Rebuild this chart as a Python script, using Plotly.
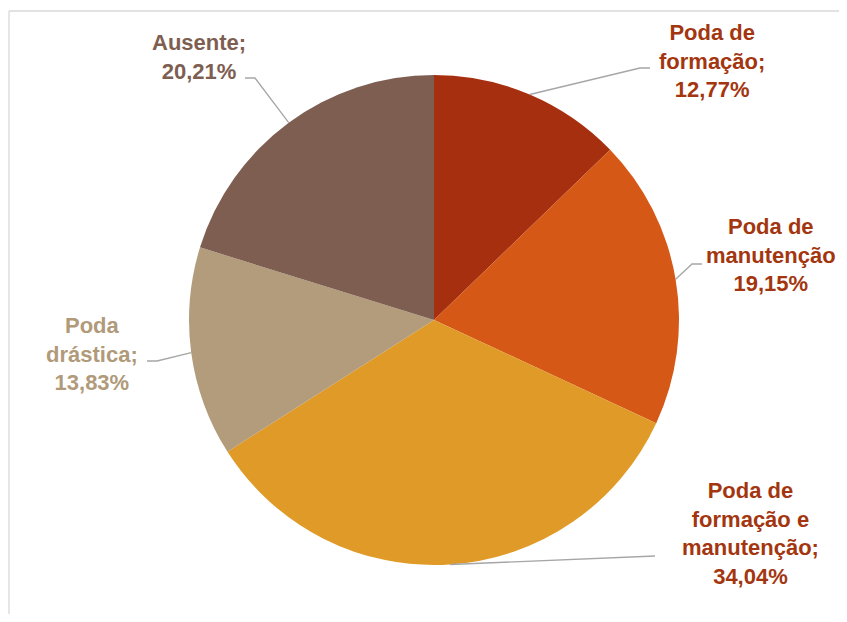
import math
import plotly.graph_objects as go

labels = ["Poda de formação", "Poda de manutenção", "Poda de formação e manutenção",
          "Poda drástica", "Ausente"]
values = [12.77, 19.15, 34.04, 13.83, 20.21]
slice_colors = ["#A52F0E", "#D55816", "#E09A27", "#B29C7C", "#7D5E51"]
text_colors = ["#A3360F", "#A3360F", "#A3360F", "#B09A7A", "#7D5E51"]
label_text = ["Poda de<br>formação;<br>12,77%",
              "Poda de<br>manutenção<br>19,15%",
              "Poda de<br>formação e<br>manutenção;<br>34,04%",
              "Poda<br>drástica;<br>13,83%",
              "Ausente;<br>20,21%"]

WIN_W, WIN_H = 847, 622
OFF = 8  # page body margin: figure is drawn 8px in from the window corner
W, H = WIN_W - 2 * OFF, WIN_H - 2 * OFF  # keep the page from scrolling
cx, cy, r = 434, 320, 245  # pie centre / radius in window pixels

# label placement: text centre, elbow point, end of leader line (window pixels)
label_pos = [(712, 61), (771, 255), (750, 533), (92, 354), (199, 57)]
elbows = [(640, 68), (692, 264), (655, 556), (157, 361), (255, 78)]
line_ends = [(650, 68), (702, 264), (655, 556), (147, 361), (245, 78)]

fig = go.Figure()
fig.add_trace(go.Pie(
    labels=labels, values=values, sort=False, direction="clockwise", rotation=0,
    marker=dict(colors=slice_colors, line=dict(width=0)),
    textinfo="none", hoverinfo="none",
    domain=dict(x=[(cx - r - OFF) / W, (cx + r - OFF) / W],
                y=[1 - (cy + r - OFF) / H, 1 - (cy - r - OFF) / H]),
))

total = sum(values)
cum = 0
for i, v in enumerate(values):
    mid = (cum + v / 2) / total * 2 * math.pi
    cum += v
    px, py = cx + r * math.sin(mid), cy - r * math.cos(mid)
    (ex, ey), (lx, ly) = elbows[i], line_ends[i]
    fig.add_shape(type="path", xref="x", yref="y",
                  path=f"M {px:.1f} {py:.1f} L {ex} {ey} L {lx} {ly}",
                  line=dict(color="#A6A6A6", width=1.3))
    fig.add_annotation(x=label_pos[i][0], y=label_pos[i][1], xref="x", yref="y",
                       text=f"<b>{label_text[i]}</b>", showarrow=False, align="center",
                       font=dict(family="Liberation Sans, Arial", size=22, color=text_colors[i]))

# chart frame: top and left edges
frame = dict(color="#D9D9D9", width=1.3)
fig.add_shape(type="line", xref="x", yref="y", x0=9, y0=11, x1=WIN_W + 20, y1=11, line=frame, layer="below")
fig.add_shape(type="line", xref="x", yref="y", x0=9, y0=11, x1=9, y1=WIN_H + 20, line=frame, layer="below")

fig.update_layout(
    width=W, height=H, margin=dict(l=0, r=0, t=0, b=0),
    paper_bgcolor="white", plot_bgcolor="rgba(0,0,0,0)", showlegend=False,
    xaxis=dict(range=[OFF, OFF + W], visible=False, fixedrange=True),
    yaxis=dict(range=[OFF + H, OFF], visible=False, fixedrange=True),
)

fig.write_html("out.html")
